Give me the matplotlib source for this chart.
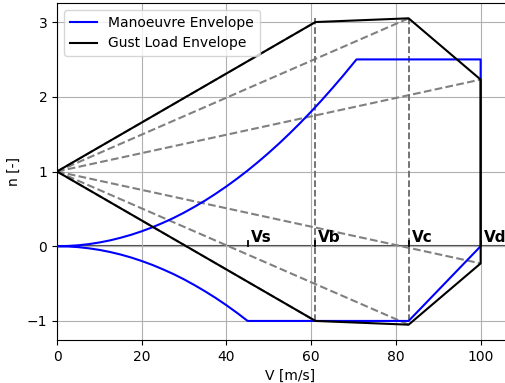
import matplotlib.pyplot as plt
import numpy as np

# speeds [m/s]
Vs = 45
Vb = 61
Vc = 83
Vd = 100
speed_names = ['Vs', 'Vb', 'Vc', 'Vd']
speeds = [Vs, Vb, Vc, Vd]

# manoeuvre envelope
V_pos = [0, 2.5, 5, 7.5, 10, 12.5, 15, 17.5, 20, 22.5, 25, 27.5, 30, 32.5, 35, 37.5,
         40, 42.5, 45, 47.5, 50, 52.5, 55, 57.5, 60, 62.5, 65, 67.5, 70, 70.7]
n_pos = [0, 0.003, 0.0125, 0.028, 0.05, 0.078, 0.113, 0.153, 0.2, 0.253, 0.313, 0.378,
         0.45, 0.529, 0.613, 0.704, 0.801, 0.904, 1.013, 1.129, 1.251, 1.379, 1.514,
         1.655, 1.802, 1.955, 2.115, 2.28, 2.452, 2.5]
V_neg = [0, 2.5, 5, 7.5, 10, 12.5, 15, 17.5, 20, 22.5, 25, 27.5, 30, 32.5, 35, 37.5,
         40, 42.5, 45]
n_neg = [0, -0.003, -0.012, -0.028, -0.049, -0.077, -0.111, -0.151, -0.198, -0.25,
         -0.309, -0.373, -0.444, -0.522, -0.605, -0.694, -0.79, -0.892, -1.0]
n_max = 2.5
n_min = -1.0

# gust load envelope
V_gust = [0, Vb, Vc, Vd, Vd, Vc, Vb, 0]
n_gust = [1, 3.0, 3.05, 2.23, -0.23, -1.05, -1.0, 1]

fig = plt.figure(figsize=(5.05, 3.83), dpi=100)
ax = fig.add_axes([57/505, 43/383, 466/505, 337/383])

# manoeuvre envelope
Vm = V_pos + [Vd, Vd, Vc] + V_neg[::-1]
nm = n_pos + [n_max, 0, n_min] + n_neg[::-1]
ax.plot(Vm, nm, color='blue', label='Manoeuvre Envelope', zorder=3)

# gust lines
for v, n in zip(V_gust[1:-1], n_gust[1:-1]):
    ax.plot([0, v], [1, n], '--', color='gray', zorder=2)
ax.plot(V_gust, n_gust, color='k', label='Gust Load Envelope', zorder=3)

ax.vlines([Vb, Vc], -1.0, 3.05, colors='dimgray', linestyles='--', linewidth=1.3, zorder=2)
ax.axhline(0, color='k', alpha=0.7, linewidth=1.5, zorder=1)

for name, v in zip(speed_names, speeds):
    ax.plot([v, v], [0, 0.07], color='k', linewidth=1.3, zorder=4)
    ax.text(v + 0.7, 0.06, name, fontsize=11, fontweight='bold', zorder=5)

ax.set_xlim(0, 110)
ax.set_ylim(-1.255, 3.255)
ax.set_xticks([0, 20, 40, 60, 80, 100])
ax.set_xlabel('V [m/s]')
ax.set_ylabel('n [-]')
ax.grid(True)
ax.legend(loc='upper left')
fig.savefig('out.png', dpi=100)
